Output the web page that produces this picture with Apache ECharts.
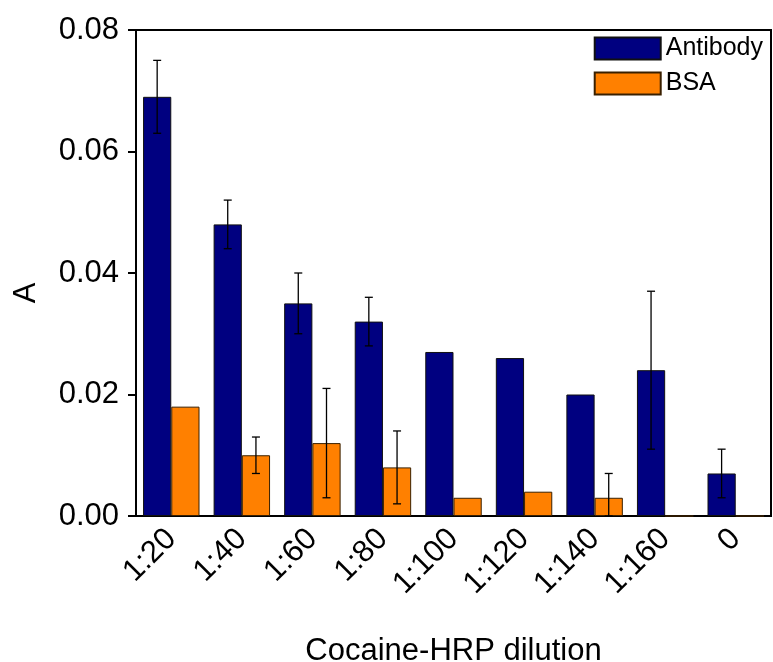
<!DOCTYPE html>
<html>
<head>
<meta charset="utf-8">
<script src="https://cdn.jsdelivr.net/npm/echarts@6/dist/echarts.min.js"></script>
<style>
  html, body { margin: 0; padding: 0; background: #fff; }
  #chart { width: 773px; height: 662px; }
</style>
</head>
<body>
<div id="chart"></div>
<script>
// Cocaine-HRP dilution series
const categories = ['1:20', '1:40', '1:60', '1:80', '1:100', '1:120', '1:140', '1:160', '0'];
const antibody    = [0.069, 0.048, 0.035, 0.032, 0.027, 0.026, 0.020, 0.024, 0.007];
const antibodyErr = [0.006, 0.004, 0.005, 0.004, 0, 0, 0, 0.013, 0.004];
const bsa         = [0.018, 0.010, 0.012, 0.008, 0.003, 0.004, 0.003, 0, 0];
const bsaErr      = [0, 0.003, 0.009, 0.006, 0, 0, 0.004, 0, 0];
const yTicks = { min: 0, max: 0.08, interval: 0.02 };

const FONT = 'Liberation Sans, Arial, sans-serif';
const BAR_FRAC = 0.4;

function errorSeries(values, errs, side) {
  const data = values.map((v, i) => [i, v, Math.max(0, v - errs[i]), v + errs[i], errs[i]]);
  return {
    type: 'custom',
    silent: true,
    z: 5,
    xAxisIndex: 1,
    yAxisIndex: 1,
    data: data,
    encode: { x: 0, y: [2, 3] },
    renderItem: function (params, api) {
      if (!api.value(4)) return null;
      const band = api.size([1, 0])[0];
      const c = api.coord([api.value(0), api.value(3)]);
      const lo = api.coord([api.value(0), api.value(2)]);
      const x = c[0] + side * band * BAR_FRAC / 2;
      const cap = 4;
      const style = { stroke: '#000', lineWidth: 1.3 };
      return {
        type: 'group',
        children: [
          { type: 'line', shape: { x1: x, y1: c[1], x2: x, y2: lo[1] }, style: style },
          { type: 'line', shape: { x1: x - cap, y1: c[1], x2: x + cap, y2: c[1] }, style: style },
          { type: 'line', shape: { x1: x - cap, y1: lo[1], x2: x + cap, y2: lo[1] }, style: style }
        ]
      };
    }
  };
}

const chart = echarts.init(document.getElementById('chart'));
chart.setOption({
  animation: false,
  backgroundColor: '#fff',
  textStyle: { fontFamily: FONT },
  grid: {
    left: 136, right: 2, top: 30, bottom: 146,
    containLabel: false, outerBoundsMode: 'none',
    show: true, borderColor: '#000', borderWidth: 2, backgroundColor: 'transparent'
  },
  legend: {
    data: ['Antibody', 'BSA'],
    right: 10,
    top: 36,
    padding: 0,
    orient: 'vertical',
    itemWidth: 66,
    itemHeight: 22,
    itemGap: 10,
    icon: 'rect',
    textStyle: { fontFamily: FONT, fontSize: 25, color: '#000' }
  },
  xAxis: [{
    type: 'category',
    data: categories,
    axisLine: { lineStyle: { color: '#000', width: 2 } },
    axisTick: { alignWithLabel: true, length: 8, lineStyle: { color: '#000', width: 2 } },
    axisLabel: { rotate: 45, fontSize: 31, color: '#000', fontFamily: FONT, margin: 18 },
    name: 'Cocaine-HRP dilution',
    nameLocation: 'middle',
    nameGap: 120,
    nameTextStyle: { fontSize: 31, color: '#000', fontFamily: FONT }
  }, {
    type: 'category',
    data: categories,
    position: 'top',
    axisLine: { lineStyle: { color: '#000', width: 2 } },
    axisTick: { alignWithLabel: true, inside: true, length: 3, lineStyle: { color: '#000', width: 1 } },
    axisLabel: { show: false }
  }],
  yAxis: [{
    type: 'value',
    min: yTicks.min,
    max: yTicks.max,
    interval: yTicks.interval,
    splitLine: { show: false },
    axisLine: { show: true, lineStyle: { color: '#000', width: 2 } },
    axisTick: { show: true, length: 8, lineStyle: { color: '#000', width: 2 } },
    axisLabel: {
      fontSize: 31, color: '#000', fontFamily: FONT, margin: 17,
      formatter: v => v.toFixed(2)
    },
    name: 'A',
    nameLocation: 'middle',
    nameGap: 94,
    nameTextStyle: { fontSize: 31, color: '#000', fontFamily: FONT, padding: [0, 0, 0, -40] }
  }, {
    type: 'value',
    min: yTicks.min,
    max: yTicks.max,
    interval: yTicks.interval,
    position: 'right',
    splitLine: { show: false },
    axisLine: { show: true, lineStyle: { color: '#000', width: 2 } },
    axisTick: { show: false },
    axisLabel: { show: false }
  }],
  series: [{
    name: 'Antibody',
    type: 'bar',
    data: antibody,
    barWidth: (BAR_FRAC * 100) + '%',
    barGap: '0%',
    itemStyle: { color: '#000080', borderColor: '#111', borderWidth: 1 }
  }, {
    name: 'BSA',
    type: 'bar',
    data: bsa,
    barWidth: (BAR_FRAC * 100) + '%',
    barGap: '0%',
    itemStyle: { color: '#FF8000', borderColor: '#3a2000', borderWidth: 1 }
  },
  errorSeries(antibody, antibodyErr, -1),
  errorSeries(bsa, bsaErr, 1)
  ]
});
</script>
</body>
</html>
